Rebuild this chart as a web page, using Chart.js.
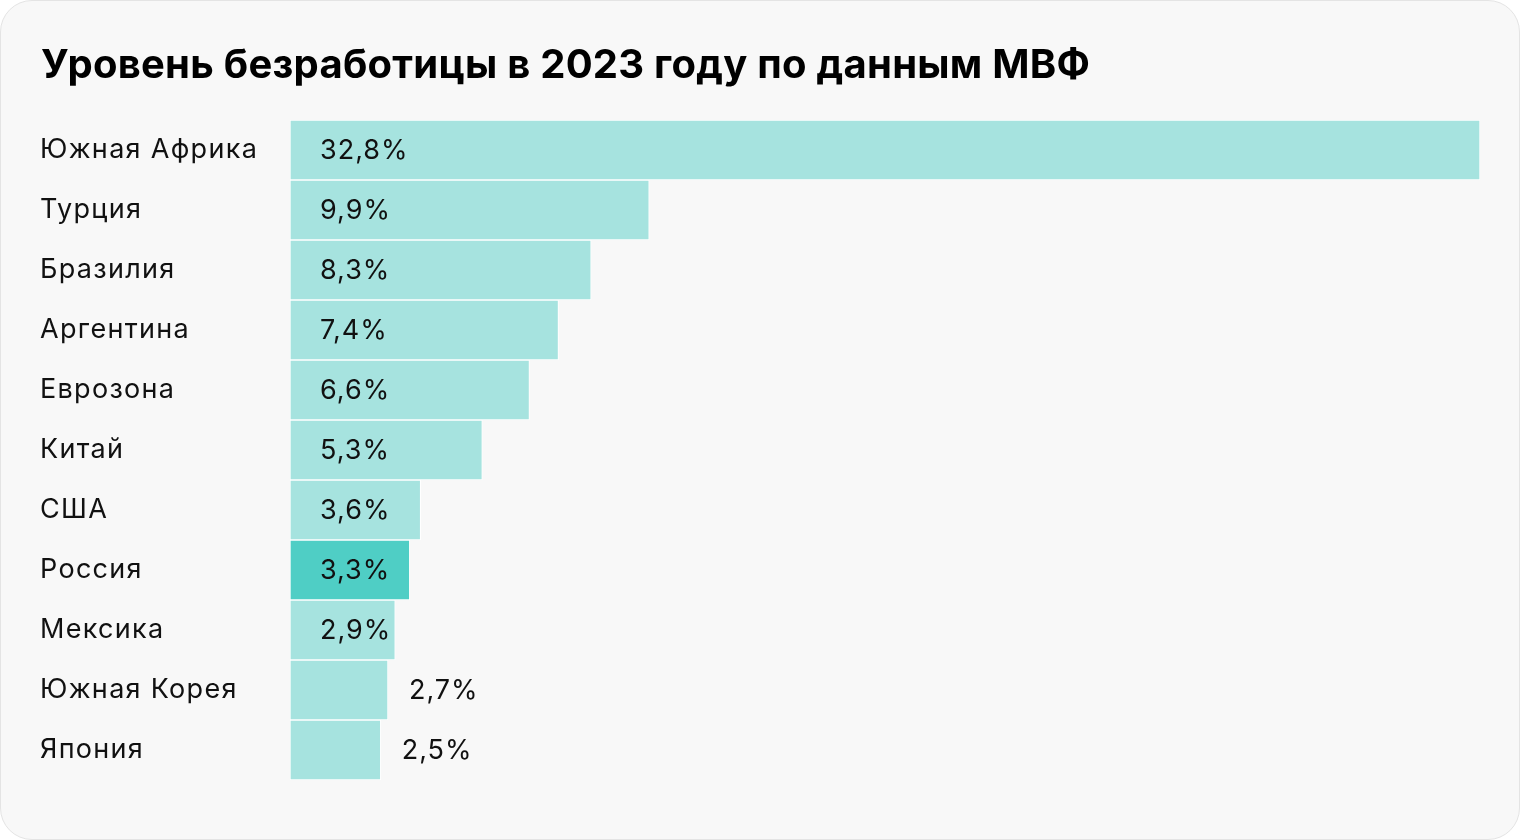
<!DOCTYPE html>
<html><head><meta charset="utf-8">
<script src="https://cdn.jsdelivr.net/npm/chart.js@4.4.0/dist/chart.umd.min.js"></script>
<style>
html,body{margin:0;padding:0;background:#fff;}
#card{position:absolute;left:0;top:0;width:1518px;height:838px;border:1px solid #e4e4e4;border-radius:32px;background:#f8f8f8;overflow:hidden;}
#wrap{position:absolute;left:-1px;top:-1px;width:1520px;height:840px;}
</style></head>
<body>
<div id="card"><div id="wrap"><canvas id="c" width="1520" height="840"></canvas></div></div>
<script>
const title = "Уровень безработицы в 2023 году по данным МВФ";
const categories = ["Южная Африка","Турция","Бразилия","Аргентина","Еврозона","Китай","США","Россия","Мексика","Южная Корея","Япония"];
const values = [32.8,9.9,8.3,7.4,6.6,5.3,3.6,3.3,2.9,2.7,2.5];
const valueLabels = ["32,8%","9,9%","8,3%","7,4%","6,6%","5,3%","3,6%","3,3%","2,9%","2,7%","2,5%"];
const highlight = "Россия";
const FONT = "Inter, 'Noto Sans', sans-serif";

const spacingPlugin = {
  id:'spacing',
  beforeDraw(chart){ chart.ctx.letterSpacing = '1.3px'; },
  afterDraw(chart){ chart.ctx.letterSpacing = '0px'; }
};

const titlePlugin = {
  id:'cardTitle',
  afterDraw(chart){
    const ctx = chart.ctx;
    ctx.save();
    ctx.letterSpacing = '0.25px';
    ctx.font = "700 40px " + FONT;
    ctx.fillStyle = "#000";
    ctx.textAlign = "left";
    ctx.textBaseline = "alphabetic";
    ctx.fillText(title, 41, 78);
    ctx.restore();
  }
};

const labelPlugin = {
  id:'valueLabels',
  afterDatasetsDraw(chart){
    const ctx = chart.ctx;
    const meta = chart.getDatasetMeta(0);
    ctx.save();
    ctx.letterSpacing = '1px';
    ctx.font = "400 27px " + FONT;
    ctx.fillStyle = "#111";
    ctx.textBaseline = "middle";
    ctx.textAlign = "left";
    meta.data.forEach((bar,i)=>{
      const txt = valueLabels[i];
      const w = ctx.measureText(txt).width;
      const left = chart.chartArea.left;
      let x = left + 30;
      if (x + w > bar.x) x = bar.x + 21;
      ctx.fillText(txt, x, bar.y + 1);
    });
    ctx.restore();
  }
};

new Chart(document.getElementById('c'),{
  type:'bar',
  data:{labels:categories,datasets:[{
    data:values,
    backgroundColor:categories.map(c=>c===highlight?'#4fcec5':'#a6e3df'),
    borderColor:'#ffffff',borderWidth:1,borderSkipped:false,
    categoryPercentage:1,barPercentage:1
  }]},
  options:{
    indexAxis:'y',responsive:false,animation:false,
    layout:{padding:{left:40,right:40,bottom:60,top:120}},
    plugins:{legend:{display:false},tooltip:{enabled:false},title:{display:false}},
    scales:{
      x:{display:false,min:0,max:32.8},
      y:{grid:{display:false},border:{display:false},
        ticks:{crossAlign:'far',color:'#111',font:{family:FONT,size:27},padding:0},
        afterFit(s){s.width=250;}}
    }
  },
  plugins:[spacingPlugin,labelPlugin,titlePlugin]
});
</script>
</body></html>
